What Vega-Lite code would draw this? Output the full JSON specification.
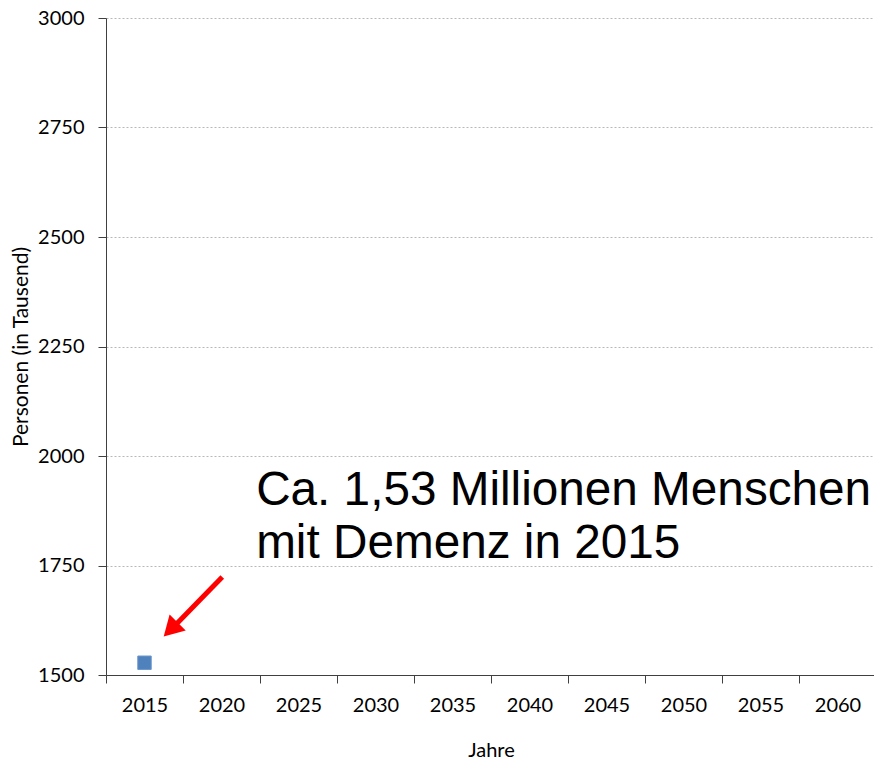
{
  "$schema": "https://vega.github.io/schema/vega-lite/v6.json",
  "autosize": "none",
  "width": 770,
  "height": 657,
  "padding": {"left": 106, "top": 18, "right": 0, "bottom": 86},
  "background": "white",
  "config": {
    "view": {"stroke": null},
    "font": "Lato"
  },
  "datasets": {
    "points": [
      {"year": "2015", "persons": 1528}
    ],
    "arrow": [
      {"x": 2020.05, "y": 1724, "x2": 2016.9, "y2": 1610}
    ],
    "head": [
      {"x": 2016.7, "y": 1604}
    ],
    "note": [
      {"x": 2022.25, "y": 1888, "label": "Ca. 1,53 Millionen Menschen"},
      {"x": 2022.25, "y": 1767, "label": "mit Demenz in 2015"}
    ]
  },
  "layer": [
    {
      "data": {"name": "points"},
      "mark": {"type": "point", "shape": "square", "filled": true, "size": 180, "color": "#4F81BD", "opacity": 1, "stroke": "#6a96cc", "strokeWidth": 1},
      "encoding": {
        "x": {
          "field": "year", "type": "ordinal", "title": "Jahre",
          "scale": {"type": "band", "paddingInner": 0, "paddingOuter": 0,
            "domain": ["2015", "2020", "2025", "2030", "2035", "2040", "2045", "2050", "2055", "2060"]},
          "axis": {
            "labelAngle": 0, "tickBand": "extent", "labelFontSize": 20, "labelColor": "#000000",
            "labelPadding": 12, "tickSize": 8, "tickColor": "#404040", "domainColor": "#404040",
            "titleFontSize": 20, "titleFontWeight": "normal", "titleColor": "#000000", "titlePadding": 25, "grid": false
          }
        },
        "y": {
          "field": "persons", "type": "quantitative", "title": "Personen (in Tausend)",
          "scale": {"domain": [1500, 3000], "nice": false, "zero": false},
          "axis": {
            "values": [1500, 1750, 2000, 2250, 2500, 2750, 3000], "format": "d", "labelFontSize": 20, "labelColor": "#000000",
            "labelPadding": 14, "tickSize": 8, "tickColor": "#404040", "domainColor": "#404040",
            "grid": true, "gridColor": "#b8b8b8", "gridDash": [2, 2], "gridWidth": 1,
            "titleFontSize": 21, "titleFontWeight": "normal", "titleColor": "#000000", "titlePadding": 6
          }
        }
      }
    },
    {
      "layer": [
        {
          "data": {"name": "arrow"},
          "mark": {"type": "rule", "color": "#ff0000", "strokeWidth": 5, "strokeCap": "butt"},
          "encoding": {
            "x": {"field": "x", "type": "quantitative", "scale": {"domain": [2012.5, 2062.5], "nice": false, "zero": false}, "axis": null},
            "y": {"field": "y", "type": "quantitative", "scale": {"domain": [1500, 3000], "nice": false, "zero": false}, "axis": null},
            "x2": {"field": "x2"},
            "y2": {"field": "y2"}
          }
        },
        {
          "data": {"name": "head"},
          "mark": {"type": "point", "shape": "triangle-up", "filled": true, "color": "#ff0000", "opacity": 1, "size": 520, "angle": 225},
          "encoding": {
            "x": {"field": "x", "type": "quantitative", "scale": {"domain": [2012.5, 2062.5], "nice": false, "zero": false}, "axis": null},
            "y": {"field": "y", "type": "quantitative", "scale": {"domain": [1500, 3000], "nice": false, "zero": false}, "axis": null}
          }
        },
        {
          "data": {"name": "note"},
          "mark": {"type": "text", "font": "Liberation Sans", "fontSize": 47.7, "align": "left", "baseline": "alphabetic", "color": "#000000"},
          "encoding": {
            "x": {"field": "x", "type": "quantitative", "scale": {"domain": [2012.5, 2062.5], "nice": false, "zero": false}, "axis": null},
            "y": {"field": "y", "type": "quantitative", "scale": {"domain": [1500, 3000], "nice": false, "zero": false}, "axis": null},
            "text": {"field": "label"}
          }
        }
      ]
    }
  ],
  "resolve": {"scale": {"x": "independent", "y": "independent"}, "axis": {"x": "independent", "y": "independent"}}
}
